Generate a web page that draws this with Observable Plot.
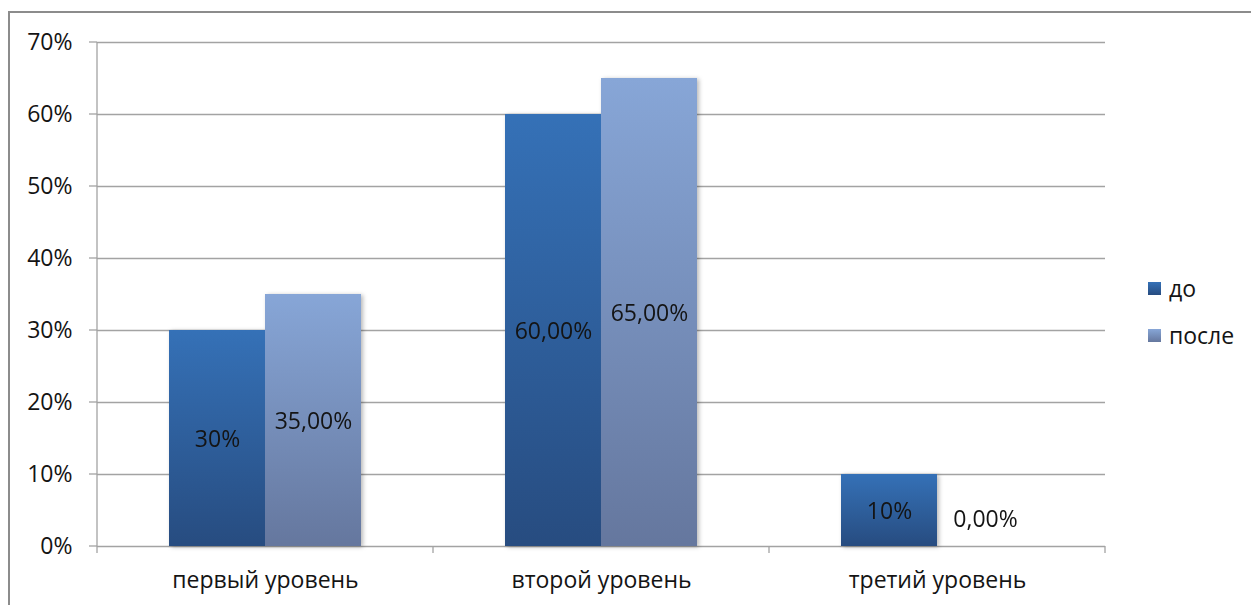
<!DOCTYPE html>
<html>
<head>
<meta charset="utf-8">
<script src="https://cdn.jsdelivr.net/npm/d3@7"></script>
<script src="https://cdn.jsdelivr.net/npm/@observablehq/plot@0.6"></script>
<style>
  body { margin: 0; background: #fff; }
  #wrap { position: relative; width: 1251px; height: 605px; overflow: hidden; font-family: "Open Sans", sans-serif; }
  #frame { position: absolute; left: 8px; top: 11px; width: 1400px; height: 800px; border-top: 2px solid #8c8c8c; border-left: 2px solid #8c8c8c; }
  #chart { position: absolute; left: 0; top: 0; }
  .leg { position: absolute; left: 1148px; display: flex; align-items: center; font-size: 23px; color: #141414; }
  .leg .sw { width: 13px; height: 13px; margin-right: 8px; }
</style>
</head>
<body>
<div id="wrap">
  <div id="frame"></div>
  <div id="chart"></div>
  <div id="legend"></div>
</div>
<script>
const categories = ["первый уровень", "второй уровень", "третий уровень"];
const series = ["до", "после"];
const valuesDo = [0.30, 0.60, 0.10];
const valuesPosle = [0.35, 0.65, 0.00];
const labelsDo = ["30%", "60,00%", "10%"];
const labelsPosle = ["35,00%", "65,00%", "0,00%"];
const yTicks = [0, 0.1, 0.2, 0.3, 0.4, 0.5, 0.6, 0.7];
const yTickLabels = ["0%", "10%", "20%", "30%", "40%", "50%", "60%", "70%"];

const gradients = {
  "до": ["#3571b7", "#274c80"],
  "после": ["#87a6d7", "#65779e"]
};

const rows = categories.flatMap((c, i) => [
  {cat: c, series: series[0], value: valuesDo[i], label: labelsDo[i]},
  {cat: c, series: series[1], value: valuesPosle[i], label: labelsPosle[i]}
]);

const W = 1251, H = 605;
const M = {top: 42, right: 146, bottom: 59, left: 97};

const chart = Plot.plot({
  width: W, height: H,
  marginTop: M.top, marginRight: M.right, marginBottom: M.bottom, marginLeft: M.left,
  style: {fontFamily: "Open Sans, sans-serif", fontSize: "23px", color: "#141414", background: "transparent", overflow: "visible"},
  facet: {data: rows, x: "cat", marginTop: M.top, marginRight: M.right, marginBottom: M.bottom, marginLeft: M.left},
  fx: {domain: categories, padding: 0, label: null, tickSize: 0, tickPadding: 25},
  x: {domain: series, paddingInner: 0, paddingOuter: 0.75, align: 0.5, axis: null},
  y: {domain: [0, 0.7], ticks: yTicks, tickFormat: d => yTickLabels[yTicks.findIndex(t => Math.abs(t - d) < 1e-9)], tickSize: 0, tickPadding: 25, label: null},
  color: {domain: series, range: ["url(#gDo)", "url(#gPosle)"]},
  marks: [
    Plot.ruleY(yTicks, {stroke: "#a3a3a3", strokeWidth: 1.3}),
    Plot.barY(rows, {x: "series", y: "value", fill: "series"}),
    Plot.text(rows, {filter: d => d.value > 0, x: "series", y: d => d.value / 2, text: "label", fill: "#141414", dy: 1}),
    Plot.text(rows, {filter: d => d.value === 0, x: "series", y: "value", text: "label", fill: "#141414", dy: -27})
  ]
});

// gradients
const svg = d3.select(chart);
const defs = svg.insert("defs", ":first-child");
[["gDo", gradients["до"]], ["gPosle", gradients["после"]]].forEach(([id, [c1, c2]]) => {
  const g = defs.append("linearGradient").attr("id", id).attr("x1", 0).attr("y1", 0).attr("x2", 0).attr("y2", 1);
  g.append("stop").attr("offset", "0%").attr("stop-color", c1);
  g.append("stop").attr("offset", "100%").attr("stop-color", c2);
});
svg.selectAll('[aria-label="bar"]').style("filter", "drop-shadow(2px 1px 2px rgba(0,0,0,0.28))");

// axis line, y tick marks and category boundary ticks from the scales
const fx = chart.scale("fx"), y = chart.scale("y");
const axisG = svg.append("g").attr("stroke", "#a3a3a3").attr("stroke-width", 1.3);
const x0 = M.left;
axisG.append("line").attr("x1", x0).attr("x2", x0).attr("y1", y.apply(0.7)).attr("y2", y.apply(0) + 7);
yTicks.forEach(t => axisG.append("line").attr("x1", x0 - 8).attr("x2", x0).attr("y1", y.apply(t)).attr("y2", y.apply(t)));
categories.forEach(c => {
  const xr = fx.apply(c) + fx.bandwidth;
  axisG.append("line").attr("x1", xr).attr("x2", xr).attr("y1", y.apply(0)).attr("y2", y.apply(0) + 7);
});

document.getElementById("chart").appendChild(chart);

// legend
const legend = document.getElementById("legend");
const legendTops = [272, 319];
series.forEach((s, i) => {
  const item = document.createElement("div");
  item.className = "leg";
  item.style.top = legendTops[i] + "px";
  const sw = document.createElement("div");
  sw.className = "sw";
  sw.style.background = `linear-gradient(${gradients[s][0]}, ${gradients[s][1]})`;
  const tx = document.createElement("span");
  tx.textContent = s;
  item.appendChild(sw); item.appendChild(tx);
  legend.appendChild(item);
});
</script>
</body>
</html>
